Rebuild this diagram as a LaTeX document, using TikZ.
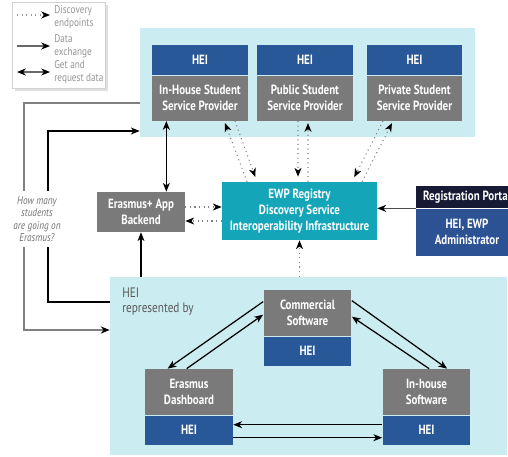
\documentclass[tikz,border=0pt]{standalone}
\usepackage{fontspec}
\setmainfont{PT Sans}
\newfontfamily\narrowfont{PT Sans}[FakeStretch=0.82]
\usetikzlibrary{arrows.meta,positioning,shadows}
\definecolor{panel}{RGB}{203,236,240}
\definecolor{heiblue}{RGB}{40,88,152}
\definecolor{boxgray}{RGB}{122,122,122}
\definecolor{ewpteal}{RGB}{20,166,184}
\definecolor{portaldark}{RGB}{22,26,52}
\definecolor{portalblue}{RGB}{44,82,148}
\definecolor{legendgray}{RGB}{150,150,150}
\tikzstyle{label} = [text=white, align=center, inner sep=0pt,
  font=\narrowfont\fontsize{7.6}{9}\selectfont\bfseries]
\tikzstyle{heiband} = [label, fill=heiblue]
\tikzstyle{grayband} = [label, fill=boxgray]
\tikzstyle{tip} = [-{Stealth[black, length=5pt, width=4pt, inset=1.5pt]}]
\tikzstyle{tips} = [{Stealth[black, length=5pt, width=4pt, inset=1.5pt]}-{Stealth[black, length=5pt, width=4pt, inset=1.5pt]}]
\tikzstyle{disc} = [tip, draw=gray, dotted, line width=0.6pt]
\tikzstyle{data} = [tip, draw=black, line width=0.7pt]
\tikzstyle{query} = [tip, draw=gray, line width=0.9pt]
\tikzstyle{legendtext} = [anchor=west, align=left, text=legendgray, inner sep=0pt,
  font=\narrowfont\fontsize{6.4}{7.2}\selectfont]

\begin{document}
\begin{tikzpicture}[x=0.02cm, y=-0.02cm]
  \useasboundingbox (0,0) rectangle (508,457);
  \clip (0,0) rectangle (508,457);

  % panels
  \node[fill=panel, minimum width=6.7cm, minimum height=2.18cm, inner sep=0] (toppanel) at (307.5,82.5) {};
  \node[fill=panel, minimum width=7.94cm, minimum height=3.56cm, inner sep=0] (botpanel) at (308.5,366) {};

  % legend
  \node[draw=gray!35, fill=white, drop shadow={opacity=0.25, shadow xshift=1.5pt, shadow yshift=-1.5pt},
    minimum width=1.86cm, minimum height=1.72cm] (legend) at (58.5,45) {};
  \node[legendtext] (d1) at (54,17) {Discovery\\endpoints};
  \node[legendtext] (d2) at (54,46) {Data\\exchange};
  \node[legendtext] (d3) at (54,72) {Get and\\request data};
  \draw[disc, draw=legendgray] ([xshift=-0.74cm, yshift=0.04cm]d1.west) -- ([xshift=-0.08cm, yshift=0.04cm]d1.west);
  \draw[data, draw=legendgray!70!black] ([xshift=-0.74cm]d2.west) -- ([xshift=-0.08cm]d2.west);
  \draw[tips, draw=legendgray!70!black, line width=0.7pt] ([xshift=-0.74cm]d3.west) -- ([xshift=-0.08cm]d3.west);

  % service providers
  \node[heiband, minimum width=1.92cm, minimum height=0.6cm] (hei1) at (200,60) {HEI};
  \node[grayband, minimum width=1.92cm, minimum height=0.9cm, below=0pt of hei1] (sp1) {In-House Student\\Service Provider};
  \node[heiband, minimum width=1.92cm, minimum height=0.6cm] (hei2) at (305,60) {HEI};
  \node[grayband, minimum width=1.92cm, minimum height=0.9cm, below=0pt of hei2] (sp2) {Public Student\\Service Provider};
  \node[heiband, minimum width=1.92cm, minimum height=0.6cm] (hei3) at (414.5,60) {HEI};
  \node[grayband, minimum width=1.92cm, minimum height=0.9cm, below=0pt of hei3] (sp3) {Private Student\\Service Provider};

  % middle row
  \node[grayband, minimum width=1.76cm, minimum height=0.8cm] (backend) at (141,212) {Erasmus+ App\\Backend};
  \node[label, fill=ewpteal, minimum width=3.1cm, minimum height=1.16cm] (ewp) at (299.5,211)
    {EWP Registry\\Discovery Service\\Interoperability Infrastructure};
  \node[label, fill=portaldark, minimum width=2.04cm, minimum height=0.44cm] (portal) at (467,197) {Registration Portal};
  \node[label, fill=portalblue, minimum width=2.04cm, minimum height=0.94cm, below=0pt of portal] (admin) {HEI, EWP\\Administrator};

  % software
  \node[grayband, minimum width=1.76cm, minimum height=0.92cm] (cs) at (307.5,313) {Commercial\\Software};
  \node[heiband, minimum width=1.76cm, minimum height=0.58cm, below=0pt of cs] (csh) {HEI};
  \node[grayband, minimum width=1.76cm, minimum height=0.92cm] (ed) at (189,392) {Erasmus\\Dashboard};
  \node[heiband, minimum width=1.76cm, minimum height=0.58cm, below=0pt of ed] (edh) {HEI};
  \node[grayband, minimum width=1.76cm, minimum height=0.92cm] (ih) at (426.5,392) {In-house\\Software};
  \node[heiband, minimum width=1.76cm, minimum height=0.58cm, below=0pt of ih] (ihh) {HEI};
  \node[anchor=north west, align=left, inner sep=0pt, text=black!65,
    font=\narrowfont\fontsize{7.8}{8.4}\selectfont] (repby) at (122,288) {HEI\\represented by};

  % discovery endpoints
  \draw[disc] ([xshift=-1.05cm]ewp.north) -- ([xshift=0.5cm, yshift=-0.04cm]sp1.south);
  \draw[disc, shorten >=0.1cm] ([xshift=0.7cm]sp1.south) -- ([xshift=-0.85cm]ewp.north);
  \draw[disc, shorten >=0.1cm] ([xshift=-0.14cm]sp2.south) -- ([xshift=-0.03cm]ewp.north);
  \draw[disc] ([xshift=0.17cm]ewp.north) -- ([xshift=0.06cm, yshift=-0.04cm]sp2.south);
  \draw[disc, shorten >=0.1cm] ([xshift=-0.63cm]sp3.south) -- ([xshift=1.05cm]ewp.north);
  \draw[disc] ([xshift=1.25cm]ewp.north) -- ([xshift=-0.45cm, yshift=-0.04cm]sp3.south);
  \draw[disc] ([yshift=0.1cm]backend.east) -- ([yshift=0.1cm]backend.east -| ewp.west);
  \draw[disc] ([yshift=-0.2cm]ewp.west) -- ([yshift=-0.2cm]ewp.west -| backend.east);
  \draw[disc] (ewp.south |- botpanel.north) -- (ewp.south);

  % data exchange
  \draw[data, draw=black!70] (portal.south west) -- (portal.south west -| ewp.east);
  \draw[tips, line width=0.7pt] ([xshift=-0.38cm]backend.north east |- sp1.south) -- ([xshift=-0.38cm]backend.north east);
  \draw[data] (backend.south |- botpanel.north) -- (backend.south);
  \draw[data] ([yshift=-0.24cm]cs.north west) -- ([xshift=0.46cm]ed.north west);
  \draw[data] ([xshift=0.84cm]ed.north west) -- ([yshift=-0.5cm]cs.north west);
  \draw[data] ([yshift=-0.22cm]cs.north east) -- ([xshift=1.3cm]ih.north west);
  \draw[data] ([xshift=0.94cm]ih.north west) -- ([yshift=-0.54cm]cs.north east);
  \draw[data] ([yshift=0.11cm]ihh.west) -- ([yshift=0.11cm]ihh.west -| edh.east);
  \draw[data] ([yshift=-0.15cm]edh.east) -- ([yshift=-0.15cm]edh.east -| ihh.west);

  % the question
  \coordinate (qo1) at (24,103);
  \coordinate (qo2) at (24,330);
  \coordinate (qi1) at (48,302);
  \coordinate (qi2) at (48,131);
  \draw[query] (toppanel.west |- qo1) -- (qo1) -- (qo2) -- (botpanel.west |- qo2);
  \draw[data] (botpanel.west |- qi1) -- (qi1) -- (qi2) -- (toppanel.west |- qi2);
  \node[fill=white, align=center, text=black!55, inner sep=3pt,
    font=\narrowfont\fontsize{6.4}{7}\selectfont\itshape] (question) at (37,219)
    {How many\\students\\are going on\\Erasmus?};
\end{tikzpicture}
\end{document}
